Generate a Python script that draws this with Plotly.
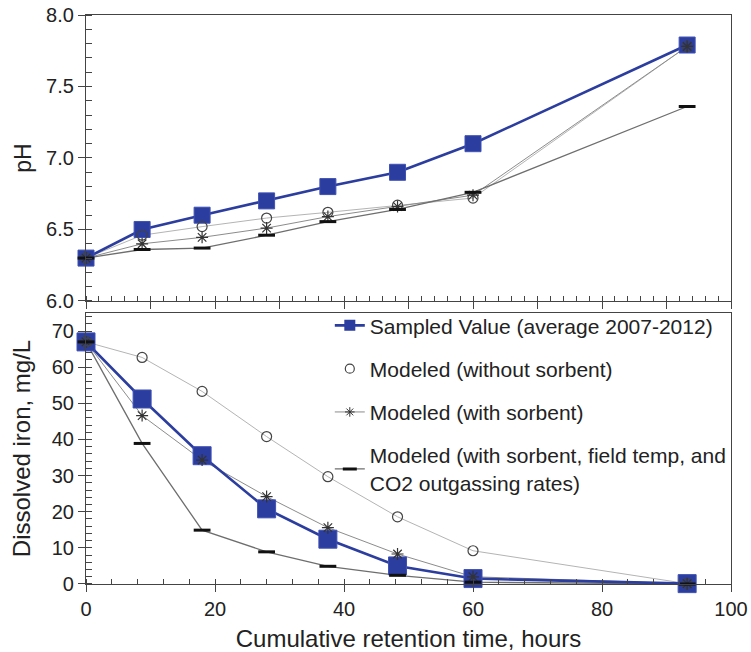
import plotly.graph_objects as go

# ---- data ----
hours = [0, 8.7, 18.0, 28.0, 37.5, 48.3, 60.0, 93.2]

ph_sampled = [6.30, 6.50, 6.60, 6.70, 6.80, 6.90, 7.10, 7.79]
ph_no_sorbent = [6.30, 6.46, 6.52, 6.58, 6.62, 6.67, 6.72, 7.78]
ph_sorbent = [6.30, 6.40, 6.445, 6.51, 6.59, 6.66, 6.74, 7.78]
ph_field = [6.30, 6.36, 6.37, 6.46, 6.555, 6.64, 6.76, 7.36]

fe_sampled = [67.0, 51.2, 35.5, 20.8, 12.4, 5.0, 1.5, 0.1]
fe_no_sorbent = [67.0, 62.7, 53.3, 40.8, 29.7, 18.6, 9.2, 0.1]
fe_sorbent = [67.0, 46.6, 34.3, 24.2, 15.6, 8.3, 2.0, 0.1]
fe_field = [67.0, 38.9, 14.9, 8.9, 4.9, 2.4, 0.5, 0.0]

names = ["Sampled Value (average 2007-2012)",
         "Modeled (without sorbent)",
         "Modeled (with sorbent)",
         "Modeled (with sorbent, field temp, and<br>CO2 outgassing rates)"]

BLUE = "#2b3d9e"
FONT = "Liberation Sans, Arial, sans-serif"

fig = go.Figure()

line_styles = {
    "no": dict(color="#b4b4b4", width=1),
    "sorb": dict(color="#8c8c8c", width=1),
    "field": dict(color="#6e6e6e", width=1.3),
}

marker_styles = {
    "no": dict(symbol="circle-open", size=10, color="#444", line=dict(color="#444", width=1.2)),
    "sorb": dict(symbol="asterisk-open", size=10, color="#333", line=dict(color="#333", width=1.2)),
    "field": dict(symbol="line-ew-open", size=12, color="#111", line=dict(color="#111", width=3)),
}

panels = [
    ("x", "y", ph_sampled, ph_no_sorbent, ph_sorbent, ph_field, 16),
    ("x2", "y2", fe_sampled, fe_no_sorbent, fe_sorbent, fe_field, 18),
]

for xa, ya, s, a, b, c, sq in panels:
    series = [("no", a), ("sorb", b), ("field", c)]
    for key, vals in series:
        fig.add_trace(go.Scatter(x=hours, y=vals, mode="lines", line=line_styles[key],
                                 xaxis=xa, yaxis=ya, showlegend=False, hoverinfo="skip",
                                 cliponaxis=False))
    fig.add_trace(go.Scatter(x=hours, y=s, mode="lines+markers",
                             line=dict(color=BLUE, width=2.6),
                             marker=dict(symbol="square", size=sq, color=BLUE,
                                         line=dict(color="#3f51b5", width=1)),
                             xaxis=xa, yaxis=ya, showlegend=False, cliponaxis=False))
    for key, vals in series:
        fig.add_trace(go.Scatter(x=hours, y=vals, mode="markers", marker=marker_styles[key],
                                 xaxis=xa, yaxis=ya, showlegend=False, cliponaxis=False))

# legend entries
fig.add_trace(go.Scatter(x=[None], y=[None], mode="lines+markers", name=names[0],
                         line=dict(color=BLUE, width=2.6),
                         marker=dict(symbol="square", size=11, color=BLUE),
                         xaxis="x2", yaxis="y2", legendgroup="a", legendrank=1))
fig.add_trace(go.Scatter(x=[None], y=[None], mode="markers", name=names[1],
                         marker=dict(symbol="circle-open", size=9, color="#444",
                                     line=dict(color="#444", width=1.2)),
                         xaxis="x2", yaxis="y2", legendgroup="b", legendrank=2))
fig.add_trace(go.Scatter(x=[None], y=[None], mode="lines+markers", name=names[2],
                         line=dict(color="#8c8c8c", width=1),
                         marker=dict(symbol="asterisk-open", size=8, color="#333",
                                     line=dict(color="#333", width=1)),
                         xaxis="x2", yaxis="y2", legendgroup="c", legendrank=3))
fig.add_trace(go.Scatter(x=[None], y=[None], mode="lines+markers", name=names[3],
                         line=dict(color="#6e6e6e", width=1.3),
                         marker=dict(symbol="line-ew-open", size=10, color="#111",
                                     line=dict(color="#111", width=3)),
                         xaxis="x2", yaxis="y2", legendgroup="d", legendrank=4))

axis_common = dict(showline=True, linecolor="#444", linewidth=1.2, mirror=True,
                   ticks="outside", ticklen=7, tickcolor="#444", tickwidth=1,
                   showgrid=False, zeroline=False, automargin=False,
                   tickfont=dict(family=FONT, size=20, color="#222"))

fig.update_layout(
    width=751, height=652,
    margin=dict(l=86, r=20, t=15, b=68),
    paper_bgcolor="white", plot_bgcolor="white",
    font=dict(family=FONT, color="#222"),
    xaxis=dict(axis_common, domain=[0, 1], range=[0, 100], dtick=10, showticklabels=False,
               anchor="y", minor=dict(dtick=2, ticks="inside", ticklen=5, tickcolor="#444")),
    yaxis=dict(axis_common, domain=[0.4974, 1], range=[6, 8], dtick=0.5, tickformat=".1f",
               anchor="x",
               minor=dict(dtick=0.1, ticks="inside", ticklen=6, tickcolor="#444"),
               title=dict(text="pH", font=dict(family=FONT, size=23, color="#222"), standoff=8)),
    xaxis2=dict(axis_common, domain=[0, 1], range=[0, 100], dtick=20, anchor="y2",
                minor=dict(dtick=4, ticks="inside", ticklen=5, tickcolor="#444"),
                title=dict(text="Cumulative retention time, hours",
                           font=dict(family=FONT, size=24, color="#222"), standoff=15)),
    yaxis2=dict(axis_common, domain=[0, 0.4763], range=[0, 75], dtick=10, anchor="x2",
                minor=dict(dtick=2, ticks="inside", ticklen=6, tickcolor="#444"),
                title=dict(text="Dissolved iron, mg/L",
                           font=dict(family=FONT, size=24, color="#222"), standoff=14)),
    legend=dict(x=0.378, y=0.49, xanchor="left", yanchor="top",
                bgcolor="rgba(255,255,255,0)", borderwidth=0,
                font=dict(family=FONT, size=21, color="#222"),
                traceorder="grouped", tracegroupgap=13, itemwidth=30),
    showlegend=True,
)

fig.write_html("out.html", config={"displayModeBar": False},
               post_script="document.body.style.margin='0';")
